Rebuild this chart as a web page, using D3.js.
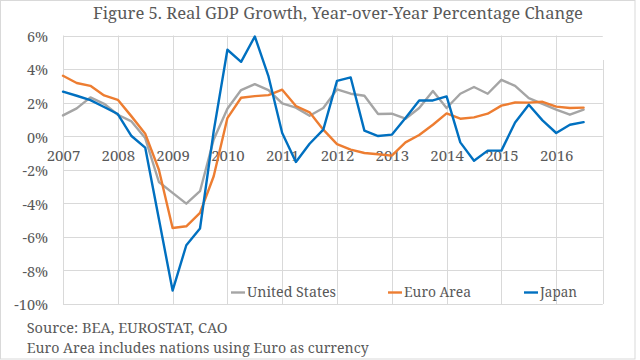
<!DOCTYPE html>
<html>
<head>
<meta charset="utf-8">
<script src="https://cdn.jsdelivr.net/npm/d3@7/dist/d3.min.js"></script>
<style>
  html, body { margin: 0; padding: 0; background: #fff; }
  svg { display: block; }
  svg text { font-family: "Noto Serif", "Liberation Serif", serif; fill: #595959; }
</style>
</head>
<body>
<svg id="chart" width="640" height="360"></svg>
<script>
// ---- Data (quarterly, 2007Q1 .. 2016Q3) ----
const years = ["2007","2008","2009","2010","2011","2012","2013","2014","2015","2016"];
const seriesNames = ["United States", "Euro Area", "Japan"];
const unitedStates = [1.24,1.66,2.31,1.93,1.28,0.88,-0.11,-2.73,-3.38,-4.02,-3.28,-0.2,1.64,2.75,3.1,2.75,1.95,1.7,1.22,1.68,2.79,2.53,2.41,1.32,1.34,1.04,1.68,2.69,1.68,2.53,2.93,2.53,3.36,3.0,2.27,1.93,1.58,1.28,1.58];
const euroArea = [3.6,3.17,3.0,2.43,2.17,1.18,0.15,-2.0,-5.47,-5.37,-4.57,-2.39,1.08,2.29,2.39,2.45,2.77,1.8,1.42,0.39,-0.47,-0.8,-1.0,-1.08,-1.16,-0.37,0.07,0.68,1.36,1.04,1.12,1.34,1.82,2.01,2.0,2.05,1.76,1.68,1.7];
const japan = [2.65,2.41,2.15,1.74,1.32,0.01,-0.68,-4.94,-9.2,-6.5,-5.5,0.3,5.15,4.43,5.94,3.56,0.19,-1.54,-0.45,0.39,3.3,3.5,0.33,0.01,0.09,1.08,2.13,2.13,2.37,-0.37,-1.46,-0.86,-0.86,0.82,1.87,0.94,0.19,0.68,0.84];
const yTicks = [-10,-8,-6,-4,-2,0,2,4,6];
const colors = ["#A5A5A5", "#ED7D31", "#0070C0"];

const FONT = '"Noto Serif", "Liberation Serif", serif';
const svg = d3.select("#chart");

// outer chart border
svg.append("rect").attr("x",0.5).attr("y",0.5).attr("width",634.5).attr("height",358.5)
  .attr("fill","none").attr("stroke","#D9D9D9").attr("stroke-width",1);

const x = d3.scaleLinear().domain([0, 38]).range([63, 63 + 38*13.7]);
const plotRight = x(39.4);
const y = d3.scaleLinear().domain([-10, 6]).range([304, 35.5]);

const grid = svg.append("g").attr("stroke","#D9D9D9").attr("stroke-width",1);
grid.selectAll("line.h").data(yTicks).join("line")
  .attr("x1", 63).attr("x2", plotRight)
  .attr("y1", d => Math.round(y(d)) + 0.5).attr("y2", d => Math.round(y(d)) + 0.5);
const yearIdx = years.map((_, i) => i*4);
grid.selectAll("line.v").data(yearIdx).join("line")
  .attr("x1", d => Math.round(x(d)) + 0.5).attr("x2", d => Math.round(x(d)) + 0.5)
  .attr("y1", y(6)).attr("y2", y(-10));
grid.append("line")
  .attr("x1", Math.round(plotRight)+0.5).attr("x2", Math.round(plotRight)+0.5)
  .attr("y1", 60).attr("y2", y(-10));

// Y axis labels
const yAxis = svg.append("g").attr("transform", "translate(63,0)")
  .call(d3.axisLeft(y).tickValues(yTicks).tickSize(0).tickPadding(15).tickFormat(d => d + "%"));
yAxis.attr("font-family", null).attr("font-size", null);
yAxis.select(".domain").remove();
yAxis.selectAll("text").attr("font-size", 14.5).attr("dy","0.4em")
  .style("font-family", FONT).style("fill", "#595959");

// X axis labels (at 0% line)
const xAxis = svg.append("g").attr("transform", `translate(0,${y(0)})`)
  .call(d3.axisBottom(x).tickValues(yearIdx).tickSize(0).tickPadding(14).tickFormat((d,i) => years[i]));
xAxis.attr("font-family", null).attr("font-size", null);
xAxis.select(".domain").remove();
xAxis.selectAll("text").attr("font-size", 15).attr("dy", "0.72em")
  .style("font-family", FONT).style("fill", "#595959");

// Lines
const allSeries = [unitedStates, euroArea, japan];
const line = d3.line().x((d, i) => x(i)).y(d => y(d));
svg.append("g").selectAll("path").data(allSeries).join("path")
  .attr("d", d => line(d))
  .attr("fill", "none")
  .attr("stroke", (d, i) => colors[i])
  .attr("stroke-width", 2.4)
  .attr("stroke-linejoin", "round")
  .attr("stroke-linecap", "round");

// Title
svg.append("text").attr("x", 93).attr("y", 18.5)
  .attr("font-size", 17).attr("textLength", 490).attr("lengthAdjust", "spacingAndGlyphs")
  .style("font-family", FONT)
  .text("Figure 5. Real GDP Growth, Year-over-Year Percentage Change");

// Legend
const legendPos = [
  {lx: 231, tx: 247, w: 89},
  {lx: 388, tx: 404, w: 67},
  {lx: 524, tx: 540, w: 37}
];
const lg = svg.append("g");
seriesNames.forEach((name, i) => {
  const p = legendPos[i];
  lg.append("line").attr("x1", p.lx).attr("x2", p.lx + 14)
    .attr("y1", 292.5).attr("y2", 292.5)
    .attr("stroke", colors[i]).attr("stroke-width", 2.4);
  lg.append("text").attr("x", p.tx).attr("y", 297)
    .attr("font-size", 14.5).attr("textLength", p.w).attr("lengthAdjust", "spacingAndGlyphs")
    .style("font-family", FONT)
    .text(name);
});

// Footnotes
svg.append("text").attr("x", 26.7).attr("y", 333)
  .attr("font-size", 13.5).attr("textLength", 201).attr("lengthAdjust", "spacingAndGlyphs")
  .style("font-family", FONT)
  .text("Source: BEA, EUROSTAT, CAO");
svg.append("text").attr("x", 26.7).attr("y", 353)
  .attr("font-size", 13.5).attr("textLength", 342).attr("lengthAdjust", "spacingAndGlyphs")
  .style("font-family", FONT)
  .text("Euro Area includes nations using Euro as currency");
</script>
</body>
</html>
